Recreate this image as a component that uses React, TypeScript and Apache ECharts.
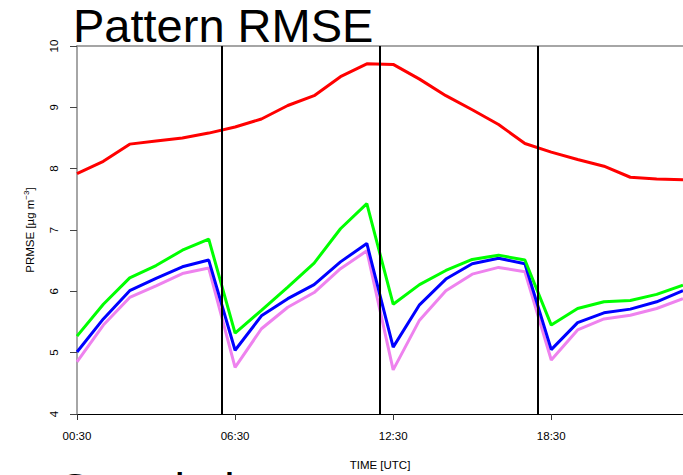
import React, { useEffect, useRef } from "react";
import * as echarts from "echarts";

const timeLabels = [
  "00:30", "01:30", "02:30", "03:30", "04:30", "05:30", "06:30", "07:30",
  "08:30", "09:30", "10:30", "11:30", "12:30", "13:30", "14:30", "15:30",
  "16:30", "17:30", "18:30", "19:30", "20:30", "21:30", "22:30", "23:30",
];
const tickLabels = ["00:30", "06:30", "12:30", "18:30"];
const dividerTimes = ["06:00", "12:00", "18:00"];

const redValues = [
  7.92, 8.12, 8.4, 8.45, 8.5, 8.58, 8.68, 8.81, 9.03, 9.19, 9.5, 9.71,
  9.7, 9.46, 9.19, 8.96, 8.72, 8.41, 8.27, 8.15, 8.04, 7.86, 7.83, 7.82,
];
const greenValues = [
  5.27, 5.79, 6.22, 6.42, 6.67, 6.85, 5.32, 5.69, 6.07, 6.46, 7.02, 7.43,
  5.79, 6.11, 6.34, 6.52, 6.59, 6.51, 5.45, 5.72, 5.83, 5.85, 5.95, 6.1,
];
const blueValues = [
  5.01, 5.55, 6.01, 6.21, 6.4, 6.51, 5.04, 5.6, 5.88, 6.11, 6.48, 6.78,
  5.09, 5.78, 6.2, 6.45, 6.54, 6.45, 5.05, 5.49, 5.65, 5.71, 5.83, 6.01,
];
const violetValues = [
  4.85, 5.45, 5.9, 6.09, 6.29, 6.38, 4.76, 5.39, 5.74, 5.98, 6.37, 6.66,
  4.72, 5.53, 6.01, 6.28, 6.39, 6.32, 4.88, 5.37, 5.55, 5.61, 5.72, 5.88,
];

const yMin = 4;
const yMax = 10;
const yStep = 1;

const FONT = "'Liberation Sans', Arial, Helvetica, sans-serif";

const toHours = (s: string) => {
  const [h, m] = s.split(":").map(Number);
  return h + m / 60;
};
const fmtTime = (v: number) => {
  const h = Math.floor(v);
  const m = Math.round((v - h) * 60);
  return String(h).padStart(2, "0") + ":" + String(m).padStart(2, "0");
};

export default function App() {
  const ref = useRef<HTMLDivElement>(null);

  useEffect(() => {
    if (!ref.current) return;
    const chart = echarts.init(ref.current, undefined, { renderer: "svg" });
    const xs = timeLabels.map(toHours);
    const xMin = xs[0];
    const xMax = xs[xs.length - 1];

    const mk = (name: string, values: number[], color: string) => ({
      type: "line",
      name,
      data: values.map((v, i) => [xs[i], v]),
      symbol: "none",
      lineStyle: { color, width: 3 },
      itemStyle: { color },
      silent: true,
      z: 2,
    });

    chart.setOption({
      animation: false,
      textStyle: { fontFamily: FONT },
      grid: {
        left: 77,
        right: 0,
        top: 46,
        bottom: 61,
        containLabel: false,
        outerBoundsMode: "none",
      },
      xAxis: [
        {
          type: "value",
          min: xMin,
          max: xMax,
          position: "bottom",
          axisLine: { show: true, lineStyle: { color: "#000", width: 1.2 } },
          axisTick: {
            show: true,
            length: 6,
            customValues: tickLabels.map(toHours),
            lineStyle: { color: "#333", width: 1 },
          },
          axisLabel: {
            show: true,
            customValues: tickLabels.map(toHours),
            formatter: (v: number) => fmtTime(v),
            fontSize: 11.5,
            color: "#000",
            margin: 16,
            fontFamily: FONT,
          },
          splitLine: { show: false },
        },
        {
          type: "value",
          min: xMin,
          max: xMax,
          position: "top",
          axisLine: { show: true, lineStyle: { color: "#888", width: 1.5 } },
          axisTick: { show: false },
          axisLabel: { show: false },
          splitLine: { show: false },
        },
      ],
      yAxis: {
        type: "value",
        min: yMin,
        max: yMax,
        interval: yStep,
        axisLine: { show: true, lineStyle: { color: "#888", width: 1.5 } },
        axisTick: { show: true, length: 7, lineStyle: { color: "#444", width: 1 } },
        axisLabel: {
          show: true,
          rotate: 90,
          fontSize: 11.5,
          color: "#000",
          margin: 17,
          fontFamily: FONT,
        },
        splitLine: { show: false },
      },
      series: [
        mk("red", redValues, "#ff0000"),
        mk("violet", violetValues, "#ee82ee"),
        mk("blue", blueValues, "#0000ff"),
        mk("green", greenValues, "#00ff00"),
        {
          type: "line",
          data: [],
          silent: true,
          z: 4,
          markLine: {
            silent: true,
            symbol: ["none", "none"],
            label: { show: false },
            lineStyle: { color: "#000", width: 2, type: "solid" },
            emphasis: { disabled: true },
            data: dividerTimes.map((t) => ({ xAxis: toHours(t) })),
          },
        },
      ],
      graphic: [
        {
          type: "text",
          x: 73,
          y: 25,
          silent: true,
          style: {
            text: "Pattern RMSE",
            fontSize: 47,
            fontFamily: FONT,
            fill: "#000",
            align: "left",
            verticalAlign: "middle",
          },
        },
        {
          type: "text",
          x: 57,
          y: 489,
          silent: true,
          style: {
            text: "Correlation",
            fontSize: 47,
            fontFamily: FONT,
            fill: "#000",
            align: "left",
            verticalAlign: "middle",
          },
        },
        {
          type: "text",
          x: 380,
          y: 465,
          silent: true,
          style: {
            text: "TIME [UTC]",
            fontSize: 11.5,
            fontFamily: FONT,
            fill: "#000",
            align: "center",
            verticalAlign: "middle",
          },
        },
        {
          type: "text",
          x: 30,
          y: 230,
          rotation: Math.PI / 2,
          silent: true,
          style: {
            text: "{a|PRMSE [µg m}{s|−3}{a|]}",
            fontFamily: FONT,
            fill: "#000",
            align: "center",
            verticalAlign: "middle",
            rich: {
              a: { fontSize: 11.5, lineHeight: 16, verticalAlign: "middle", fontFamily: FONT, fill: "#000" },
              s: { fontSize: 8, lineHeight: 8, verticalAlign: "top", fontFamily: FONT, fill: "#000" },
            },
          },
        },
      ],
    });

    return () => chart.dispose();
  }, []);

  return (
    <div
      ref={ref}
      style={{ position: "fixed", left: 0, top: 0, width: 683, height: 475, background: "#fff" }}
    />
  );
}
